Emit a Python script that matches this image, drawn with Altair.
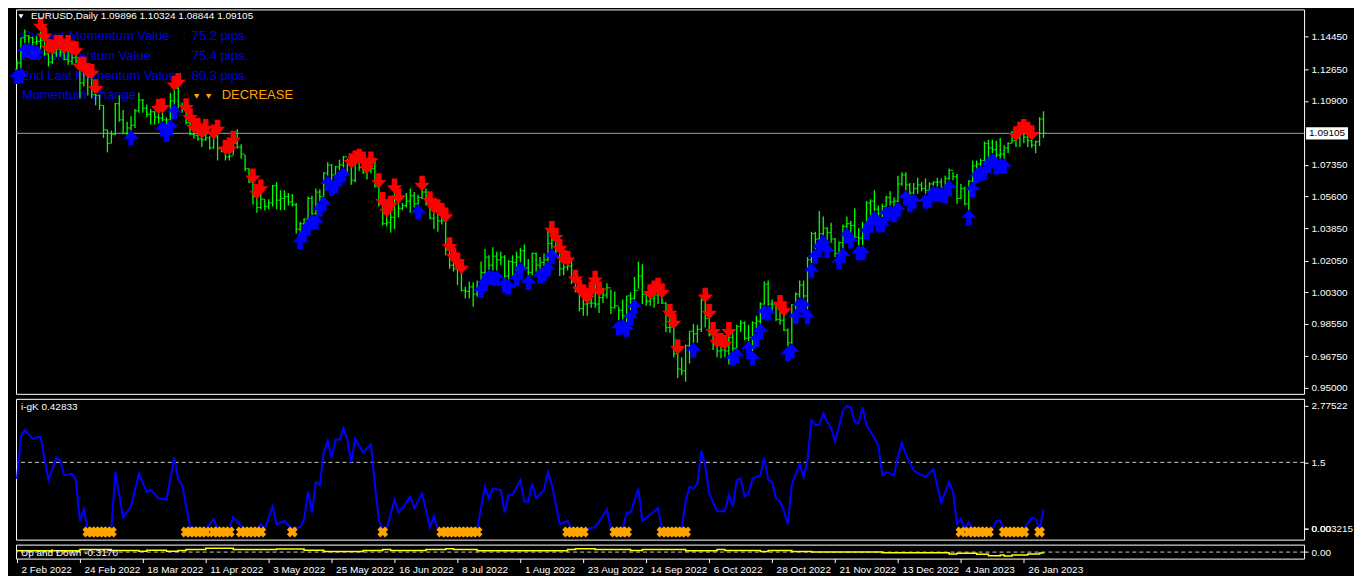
import json
import altair as alt
import pandas as pd

# ---------------- data: EURUSD daily bars, 2 Feb 2022 .. 2 Feb 2023 (weekdays) ----------------
CLOSE = [
    # Feb 2022
    1.1300, 1.1440, 1.1450, 1.1440, 1.1415, 1.1420, 1.1425, 1.1350, 1.1305, 1.1355, 1.1375, 1.1360, 1.1320, 1.1310, 1.1330, 1.1310, 1.1190, 1.1270, 1.1220,
    # Mar
    1.1125, 1.1120, 1.1065, 1.0930, 1.0855, 1.0905, 1.1075, 1.0985, 1.0910, 1.0940, 1.0955, 1.1035, 1.1095, 1.1050, 1.1015, 1.1030, 1.1000, 1.0995, 1.0985, 1.0985, 1.1090, 1.1160, 1.1065,
    # Apr
    1.1045, 1.0970, 1.0905, 1.0900, 1.0880, 1.0875, 1.0885, 1.0830, 1.0890, 1.0825, 1.0810, 1.0780, 1.0785, 1.0855, 1.0835, 1.0795, 1.0715, 1.0640, 1.0560, 1.0500, 1.0545,
    # May
    1.0505, 1.0525, 1.0620, 1.0540, 1.0550, 1.0560, 1.0530, 1.0515, 1.0380, 1.0410, 1.0435, 1.0550, 1.0465, 1.0585, 1.0560, 1.0690, 1.0735, 1.0680, 1.0725, 1.0735, 1.0780, 1.0735,
    # Jun
    1.0650, 1.0750, 1.0720, 1.0695, 1.0705, 1.0715, 1.0615, 1.0520, 1.0410, 1.0415, 1.0445, 1.0545, 1.0495, 1.0510, 1.0535, 1.0565, 1.0520, 1.0555, 1.0585, 1.0520, 1.0440, 1.0485,
    # Jul
    1.0425, 1.0425, 1.0265, 1.0180, 1.0160, 1.0185, 1.0040, 1.0035, 1.0060, 1.0020, 1.0085, 1.0140, 1.0225, 1.0180, 1.0230, 1.0210, 1.0225, 1.0120, 1.0200, 1.0195, 1.0225,
    # Aug
    1.0260, 1.0165, 1.0140, 1.0245, 1.0180, 1.0195, 1.0210, 1.0300, 1.0320, 1.0260, 1.0160, 1.0170, 1.0175, 1.0090, 1.0035, 0.9940, 0.9965, 0.9970, 0.9970, 0.9965, 1.0000, 1.0015, 1.0055,
    # Sep
    0.9945, 0.9955, 0.9930, 0.9900, 1.0010, 0.9995, 1.0040, 1.0120, 1.0020, 0.9980, 0.9995, 1.0015, 1.0025, 0.9970, 0.9835, 0.9835, 0.9690, 0.9605, 0.9595, 0.9735, 0.9815, 0.9800,
    # Oct
    0.9825, 0.9985, 0.9885, 0.9795, 0.9740, 0.9705, 0.9710, 0.9705, 0.9780, 0.9720, 0.9840, 0.9860, 0.9775, 0.9780, 0.9860, 0.9870, 0.9965, 1.0075, 0.9965, 0.9965, 0.9880,
    # Nov
    0.9875, 0.9820, 0.9750, 0.9960, 1.0020, 1.0070, 1.0010, 1.0210, 1.0355, 1.0325, 1.0355, 1.0385, 1.0360, 1.0325, 1.0245, 1.0305, 1.0395, 1.0410, 1.0400, 1.0335, 1.0330, 1.0405,
    # Dec
    1.0525, 1.0535, 1.0490, 1.0465, 1.0505, 1.0555, 1.0530, 1.0535, 1.0630, 1.0680, 1.0625, 1.0580, 1.0605, 1.0625, 1.0605, 1.0595, 1.0630, 1.0640, 1.0640, 1.0610, 1.0660, 1.0705,
    # Jan 2023
    1.0670, 1.0550, 1.0605, 1.0520, 1.0645, 1.0730, 1.0740, 1.0760, 1.0855, 1.0830, 1.0820, 1.0790, 1.0795, 1.0830, 1.0855, 1.0870, 1.0885, 1.0915, 1.0890, 1.0870, 1.0845, 1.0865,
    # Feb 2023
    1.0990, 1.09105,
]
HIGH = [
    1.1315, 1.1440, 1.1485, 1.1455, 1.1445, 1.1450, 1.1495, 1.1440, 1.1375, 1.1370, 1.1395, 1.1395, 1.1375, 1.1395, 1.1365, 1.1360, 1.1275, 1.1275, 1.1240,
    1.1235, 1.1150, 1.1125, 1.1065, 1.0930, 1.0925, 1.1080, 1.1120, 1.1040, 1.0975, 1.1005, 1.1045, 1.1135, 1.1100, 1.1070, 1.1045, 1.1035, 1.1040, 1.1045, 1.1000, 1.1135, 1.1170, 1.1185,
    1.1080, 1.1045, 1.0990, 1.0935, 1.0935, 1.0905, 1.0930, 1.0895, 1.0900, 1.0925, 1.0835, 1.0815, 1.0815, 1.0865, 1.0935, 1.0850, 1.0790, 1.0715, 1.0655, 1.0570, 1.0595,
    1.0545, 1.0545, 1.0625, 1.0640, 1.0595, 1.0595, 1.0580, 1.0575, 1.0525, 1.0420, 1.0440, 1.0560, 1.0565, 1.0605, 1.0600, 1.0695, 1.0750, 1.0740, 1.0730, 1.0765, 1.0785, 1.0770,
    1.0740, 1.0755, 1.0765, 1.0750, 1.0710, 1.0750, 1.0775, 1.0630, 1.0525, 1.0470, 1.0505, 1.0600, 1.0545, 1.0525, 1.0580, 1.0605, 1.0585, 1.0570, 1.0615, 1.0605, 1.0530, 1.0490,
    1.0485, 1.0465, 1.0440, 1.0275, 1.0220, 1.0190, 1.0155, 1.0060, 1.0090, 1.0085, 1.0095, 1.0200, 1.0270, 1.0235, 1.0280, 1.0255, 1.0255, 1.0235, 1.0210, 1.0235, 1.0255,
    1.0275, 1.0295, 1.0215, 1.0250, 1.0250, 1.0225, 1.0245, 1.0370, 1.0365, 1.0325, 1.0265, 1.0205, 1.0200, 1.0200, 1.0095, 1.0040, 1.0015, 0.9990, 1.0030, 1.0090, 1.0030, 1.0055, 1.0080,
    1.0045, 1.0035, 0.9950, 0.9990, 1.0010, 1.0030, 1.0115, 1.0200, 1.0185, 1.0025, 1.0015, 1.0035, 1.0050, 1.0020, 0.9975, 0.9905, 0.9850, 0.9710, 0.9670, 0.9740, 0.9815, 0.9855,
    0.9850, 0.9995, 0.9995, 0.9905, 0.9805, 0.9745, 0.9745, 0.9735, 0.9805, 0.9805, 0.9850, 0.9875, 0.9870, 0.9850, 0.9870, 0.9900, 0.9975, 1.0090, 1.0095, 0.9990, 0.9975,
    0.9955, 0.9920, 0.9830, 0.9965, 1.0030, 1.0095, 1.0095, 1.0225, 1.0365, 1.0365, 1.0480, 1.0450, 1.0390, 1.0415, 1.0330, 1.0310, 1.0405, 1.0450, 1.0425, 1.0495, 1.0385, 1.0420,
    1.0535, 1.0545, 1.0595, 1.0510, 1.0520, 1.0565, 1.0590, 1.0555, 1.0675, 1.0695, 1.0695, 1.0635, 1.0635, 1.0665, 1.0640, 1.0660, 1.0640, 1.0645, 1.0665, 1.0660, 1.0675, 1.0715,
    1.0695, 1.0685, 1.0630, 1.0615, 1.0650, 1.0760, 1.0760, 1.0770, 1.0865, 1.0875, 1.0875, 1.0870, 1.0885, 1.0845, 1.0860, 1.0925, 1.0890, 1.0915, 1.0930, 1.0915, 1.0895, 1.0870,
    1.1000, 1.10324,
]
LOW = [
    1.1265, 1.1270, 1.1410, 1.1410, 1.1400, 1.1400, 1.1375, 1.1340, 1.1280, 1.1295, 1.1335, 1.1335, 1.1315, 1.1290, 1.1290, 1.1300, 1.1105, 1.1170, 1.1120,
    1.1105, 1.1065, 1.1040, 1.0885, 1.0805, 1.0855, 1.0900, 1.0975, 1.0905, 1.0900, 1.0925, 1.0940, 1.1025, 1.1025, 1.1000, 1.0960, 1.0960, 1.0965, 1.0975, 1.0945, 1.0985, 1.1070, 1.1050,
    1.1025, 1.0960, 1.0900, 1.0880, 1.0870, 1.0835, 1.0870, 1.0820, 1.0825, 1.0760, 1.0805, 1.0760, 1.0760, 1.0790, 1.0825, 1.0770, 1.0700, 1.0635, 1.0515, 1.0470, 1.0490,
    1.0485, 1.0490, 1.0505, 1.0490, 1.0485, 1.0485, 1.0510, 1.0505, 1.0355, 1.0350, 1.0390, 1.0430, 1.0460, 1.0460, 1.0530, 1.0560, 1.0675, 1.0645, 1.0660, 1.0705, 1.0720, 1.0680,
    1.0625, 1.0640, 1.0705, 1.0685, 1.0655, 1.0690, 1.0610, 1.0505, 1.0400, 1.0395, 1.0360, 1.0380, 1.0445, 1.0485, 1.0500, 1.0470, 1.0500, 1.0515, 1.0545, 1.0510, 1.0435, 1.0380,
    1.0365, 1.0405, 1.0235, 1.0160, 1.0145, 1.0070, 1.0035, 0.9995, 0.9995, 0.9950, 1.0005, 1.0080, 1.0125, 1.0155, 1.0150, 1.0150, 1.0180, 1.0110, 1.0100, 1.0115, 1.0145,
    1.0195, 1.0160, 1.0125, 1.0125, 1.0145, 1.0160, 1.0175, 1.0200, 1.0270, 1.0235, 1.0120, 1.0125, 1.0150, 1.0075, 1.0030, 0.9925, 0.9900, 0.9900, 0.9945, 0.9945, 0.9915, 0.9970, 0.9995,
    0.9910, 0.9940, 0.9875, 0.9880, 0.9865, 0.9930, 0.9990, 1.0050, 0.9965, 0.9955, 0.9955, 0.9945, 0.9965, 0.9965, 0.9810, 0.9805, 0.9670, 0.9555, 0.9570, 0.9535, 0.9635, 0.9750,
    0.9750, 0.9810, 0.9835, 0.9785, 0.9710, 0.9670, 0.9665, 0.9670, 0.9630, 0.9705, 0.9720, 0.9810, 0.9765, 0.9760, 0.9705, 0.9810, 0.9855, 0.9960, 0.9955, 0.9925, 0.9870,
    0.9850, 0.9815, 0.9730, 0.9745, 0.9935, 1.0000, 0.9995, 0.9935, 1.0190, 1.0270, 1.0320, 1.0345, 1.0300, 1.0305, 1.0225, 1.0240, 1.0275, 1.0385, 1.0355, 1.0330, 1.0290, 1.0290,
    1.0405, 1.0445, 1.0480, 1.0445, 1.0445, 1.0505, 1.0510, 1.0500, 1.0530, 1.0620, 1.0595, 1.0555, 1.0575, 1.0575, 1.0590, 1.0575, 1.0580, 1.0620, 1.0615, 1.0610, 1.0605, 1.0650,
    1.0650, 1.0520, 1.0545, 1.0510, 1.0485, 1.0640, 1.0715, 1.0730, 1.0735, 1.0780, 1.0800, 1.0765, 1.0770, 1.0770, 1.0800, 1.0855, 1.0835, 1.0835, 1.0855, 1.0835, 1.0830, 1.0800,
    1.0840, 1.08844,
]
FIRST_OPEN = 1.1265
LAST_OPEN = 1.09896
CURRENT_PRICE = 1.09105

RED_BARS = [6, 7, 8, 9, 10, 11, 12, 13, 14, 15, 16, 17, 18, 19, 20, 36, 37, 40, 41, 43, 44, 45, 46, 47, 48,
            50, 51, 53, 54, 55, 60, 61, 62, 85, 86, 87, 88, 89, 90, 92, 93, 94, 95, 96, 97, 103, 105, 106,
            107, 108, 109, 110, 111, 112, 113, 136, 137, 138, 139, 140, 142, 143, 144, 145, 146, 147, 148,
            161, 162, 163, 164, 166, 167, 168, 175, 176, 177, 178, 179, 180, 181, 194, 195,
            254, 255, 256, 257, 258]
BLUE_BARS = [0, 1, 2, 3, 4, 5, 29, 37, 38, 39, 40, 72, 73, 74, 75, 76, 77, 78, 79, 80, 81, 82, 83, 102,
             118, 119, 120, 121, 122, 124, 125, 127, 128, 130, 133, 134, 135, 136, 153, 154, 155, 156, 157,
             172, 182, 183, 186, 187, 188, 189, 190, 191, 196, 197, 198, 199, 200, 201, 202, 203, 204, 205,
             206, 209, 210, 211, 212, 214, 215, 216, 217, 218, 219, 220, 221, 222, 223, 224, 226, 227, 228,
             231, 232, 233, 234, 235, 236, 237, 242, 243, 244, 245, 246, 247, 248, 249, 250, 251]

PRICE_TICKS = [1.14450, 1.12650, 1.10900, 1.07350, 1.05600, 1.03850, 1.02050, 1.00300, 0.98550, 0.96750, 0.95000]

# i-gK indicator (vertices)
IGK_BARS = [0, 1, 2, 4, 6, 8, 10, 11, 12, 14, 15, 16, 17, 18, 24, 25, 27, 29, 31, 33, 34, 36, 38, 40, 41, 42, 44, 48,
            50, 51, 54, 55, 57, 58, 61, 62, 63, 65, 66, 68, 70, 72, 73, 74, 75, 76, 77, 78, 79, 80, 81, 82, 83, 84,
            85, 86, 88, 90, 91, 92, 93, 94, 96, 97, 98, 100, 101, 103, 105, 106, 107, 117, 119, 120, 121, 123, 124,
            125, 126, 128, 129, 130, 131, 132, 134, 135, 136, 138, 140, 141, 145, 147, 150, 151, 154, 155, 156, 158,
            159, 163, 164, 169, 170, 171, 172, 173, 174, 175, 176, 178, 180, 181, 182, 183, 184, 185, 186, 187, 189,
            190, 191, 192, 193, 194, 195, 196, 197, 198, 199, 200, 201, 202, 203, 204, 205, 206, 207, 208, 209, 210,
            211, 212, 213, 214, 215, 216, 218, 219, 220, 221, 223, 224, 225, 226, 228, 230, 231, 233, 235, 237, 238,
            239, 240, 241, 242, 243, 248, 249, 250, 251, 256, 258, 259, 260, 261]
IGK_VALUES = [1.13, 2.08, 2.23, 2.03, 2.08, 1.10, 1.61, 1.54, 1.21, 1.24, 1.10, 0.18, 0.44, 0, 0, 1.28, 0.26, 0.51, 1.24,
              0.84, 0.88, 0.69, 0.66, 1.61, 1.10, 0.99, 0.04, 0, 0.22, 0, 0, 0.27, 0.07, 0, 0, 0.11, 0, 0.51, 0.11,
              0.18, 0, 0.04, 0.22, 0.84, 0.37, 1.06, 0.99, 1.72, 1.98, 1.61, 2.01, 2.01, 2.27, 2.01, 1.50, 2.03,
              1.72, 1.90, 1.00, 0.20, 0, 0, 0.66, 0.37, 0.47, 0.73, 0.47, 0.80, 0.04, 0.29, 0, 0, 0.95, 0.69, 0.91,
              0.88, 0.37, 0.77, 0.77, 1.10, 0.62, 0.62, 1.02, 0.69, 0.88, 1.28, 0.99, 0.11, 0.18, 0, 0, 0.04, 0.44,
              0, 0, 0.37, 0.37, 0.91, 0.18, 0.47, 0, 0, 0.62, 0.95, 0.91, 1.02, 1.76, 1.43, 0.80, 0.40, 0.40, 0.77,
              0.51, 1.10, 1.13, 0.73, 0.80, 1.13, 1.21, 1.61, 1.10, 1.06, 0.69, 0.62, 0.40, 0.11, 0.99, 1.24, 1.46,
              1.17, 1.57, 2.45, 2.34, 2.34, 2.60, 2.41, 2.27, 1.98, 2.30, 2.67, 2.77, 2.74, 2.41, 2.38, 2.74, 2.34,
              2.05, 1.87, 1.21, 1.28, 1.21, 1.65, 1.94, 1.68, 1.32, 1.21, 1.17, 1.35, 0.59, 1.06, 0.84, 0.11, 0.22,
              0, 0.15, 0, 0, 0.18, 0.18, 0, 0, 0.26, 0.22, 0, 0.43]
ORANGE_X_BARS = [18, 19, 20, 21, 22, 23, 24, 43, 44, 45, 46, 47, 48, 50, 51, 52, 53, 54, 57, 58, 59, 60, 61, 62, 70,
                 93, 108, 109, 110, 111, 112, 113, 114, 115, 116, 117, 140, 141, 142, 143, 144, 152, 153, 154, 155,
                 164, 165, 166, 167, 168, 169, 170, 240, 242, 243, 244, 245, 246, 247, 251, 252, 253, 254, 255,
                 256, 260]

# Up and Down indicator (step line)
UD_BARS = [0, 16, 24, 31, 33, 38, 41, 43, 48, 55, 66, 73, 78, 88, 93, 95, 104, 109, 111, 117, 140, 142, 147, 156,
           159, 170, 178, 180, 189, 191, 197, 202, 220, 237, 239, 244, 247, 250, 251, 253, 257, 260, 261]
UD_VALUES = [0.33, 0.67, 0.42, 0.25, 0.50, 0.25, 0.42, 0.67, 1.00, 0.67, 0.83, 0.50, 0.17, 0.42, 0.67, 0.42, 0.67,
             0.92, 0.67, 0.33, 0.67, 0.92, 0.67, 0.42, 0.67, 0.33, 0.67, 0.42, 0.17, 0.42, 0.17, 0.00, -0.17, -0.50,
             -0.33, -0.58, -1.00, -0.75, -1.08, -0.75, -0.50, -0.25, -0.317]

DATE_LABELS = ["2 Feb 2022", "24 Feb 2022", "18 Mar 2022", "11 Apr 2022", "3 May 2022", "25 May 2022",
               "16 Jun 2022", "8 Jul 2022", "1 Aug 2022", "23 Aug 2022", "14 Sep 2022", "6 Oct 2022",
               "28 Oct 2022", "21 Nov 2022", "13 Dec 2022", "4 Jan 2023", "26 Jan 2023"]

TITLE_TEXT = "EURUSD,Daily  1.09896 1.10324 1.08844 1.09105"
MOM_LABELS = ["Current Momentum Value", "Last Momentum Value", "2nd Last Momentum Value", "Momentum Change"]
MOM_VALUES = ["75.2 pips.", "75.4 pips.", "80.3 pips."]
MOM_STATE = "DECREASE"
IGK_TITLE = "i-gK 0.42833"
UD_TITLE = "Up and Down -0.3170"

# ---------------- frames ----------------
n = min(len(CLOSE), len(HIGH), len(LOW))
opens = [FIRST_OPEN] + CLOSE[:n - 1]
opens[n - 1] = LAST_OPEN
bars = pd.DataFrame({"i": list(range(n)), "o": opens, "h": HIGH[:n], "l": LOW[:n], "c": CLOSE[:n]})

red_df = pd.DataFrame({"i": RED_BARS, "p": [HIGH[b] + 0.0018 for b in RED_BARS]})
blue_df = pd.DataFrame({"i": BLUE_BARS, "p": [LOW[b] - 0.0040 for b in BLUE_BARS]})
igk_df = pd.DataFrame({"i": IGK_BARS, "v": IGK_VALUES})
ox_df = pd.DataFrame({"i": ORANGE_X_BARS, "v": [0.0] * len(ORANGE_X_BARS)})
ud_df = pd.DataFrame({"i": UD_BARS, "v": UD_VALUES})
one = pd.DataFrame({"a": [0]})

W, HM, HI, HS = 1290, 385, 141, 14
FONT = "Liberation Sans"
GREEN, RED, BLUE, ORANGE = "#00FF00", "#FF0000", "#0000FF", "#FFA500"

xs = alt.Scale(domain=[-0.25, 327.25], nice=False, zero=False)
X = alt.X("i:Q", scale=xs, axis=None)

# ---------------- main price panel ----------------
ys = alt.Scale(domain=[0.94675, 1.15967], nice=False, zero=False)
yax = alt.Axis(orient="right", values=PRICE_TICKS, format=".5f", title=None, labelOverlap=False,
               labelPadding=3, tickSize=4)

DOWN = "M -0.36 -1 L 0.36 -1 L 0.36 -0.1 L 1 -0.1 L 0 1 L -1 -0.1 L -0.36 -0.1 Z"
UP = "M -0.36 1 L 0.36 1 L 0.36 0.1 L 1 0.1 L 0 -1 L -1 0.1 L -0.36 0.1 Z"

layers = []
text_color = "#0000E6"
for k, lab in enumerate(MOM_LABELS):
    yy = 27 + 19.7 * k
    layers.append(alt.Chart(one).mark_text(align="left", baseline="middle", font=FONT, fontSize=13,
                                           color=text_color, text=lab).encode(x=alt.value(6), y=alt.value(yy)))
    if k < 3:
        layers.append(alt.Chart(one).mark_text(align="left", baseline="middle", font=FONT, fontSize=13,
                                               color=text_color, text=":").encode(x=alt.value(167), y=alt.value(yy)))
        layers.append(alt.Chart(one).mark_text(align="left", baseline="middle", font=FONT, fontSize=13,
                                               color=text_color, text=MOM_VALUES[k]).encode(x=alt.value(176), y=alt.value(yy)))
yy4 = 27 + 19.7 * 3
for tx in (181, 193):
    layers.append(alt.Chart(one).mark_point(shape="triangle-down", filled=True, size=30, color=ORANGE,
                                            opacity=1).encode(x=alt.value(tx), y=alt.value(yy4 + 1)))
layers.append(alt.Chart(one).mark_text(align="left", baseline="middle", font=FONT, fontSize=13,
                                       color=ORANGE, text=MOM_STATE).encode(x=alt.value(206), y=alt.value(yy4)))

cur = pd.DataFrame({"p": [CURRENT_PRICE]})
layers.append(alt.Chart(cur).mark_rule(color="#A0A0A0", strokeWidth=1).encode(
    y=alt.Y("p:Q", scale=ys, axis=yax)))
layers.append(alt.Chart(bars).mark_rule(color=GREEN, strokeWidth=1.3).encode(
    x=X, y=alt.Y("l:Q", scale=ys, axis=yax), y2="h:Q"))
layers.append(alt.Chart(bars).mark_tick(orient="horizontal", color=GREEN, size=2, thickness=1.2, xOffset=-1).encode(
    x=X, y=alt.Y("o:Q", scale=ys, axis=yax)))
layers.append(alt.Chart(bars).mark_tick(orient="horizontal", color=GREEN, size=2, thickness=1.2, xOffset=1).encode(
    x=X, y=alt.Y("c:Q", scale=ys, axis=yax)))
layers.append(alt.Chart(red_df).mark_point(shape=DOWN, filled=True, size=230, color=RED, opacity=1,
                                           strokeWidth=0).encode(x=X, y=alt.Y("p:Q", scale=ys, axis=yax)))
layers.append(alt.Chart(blue_df).mark_point(shape=UP, filled=True, size=230, color=BLUE, opacity=1,
                                            strokeWidth=0).encode(x=X, y=alt.Y("p:Q", scale=ys, axis=yax)))
layers.append(alt.Chart(one).mark_point(shape="triangle-down", filled=True, size=26, color="white",
                                        opacity=1).encode(x=alt.value(5), y=alt.value(7)))
layers.append(alt.Chart(one).mark_text(align="left", baseline="middle", font=FONT, fontSize=10,
                                       color="white", text=TITLE_TEXT).encode(x=alt.value(15), y=alt.value(7)))
box = pd.DataFrame({"t": [CURRENT_PRICE + 0.0034], "b": [CURRENT_PRICE - 0.0034], "p": [CURRENT_PRICE]})
layers.append(alt.Chart(box).mark_rect(color="white", clip=False).encode(
    x=alt.value(W + 2), x2=alt.value(W + 44), y=alt.Y("t:Q", scale=ys, axis=yax), y2="b:Q"))
layers.append(alt.Chart(box).mark_text(color="black", align="left", baseline="middle", font=FONT, fontSize=10,
                                       clip=False, text=f"{CURRENT_PRICE:.5f}").encode(
    x=alt.value(W + 5), y=alt.Y("p:Q", scale=ys, axis=yax)))

main = alt.layer(*layers).properties(width=W, height=HM)

# ---------------- i-gK panel ----------------
ys2 = alt.Scale(domain=[-0.24, 2.93], nice=False, zero=False)
yax2 = alt.Axis(orient="right", values=[2.77522, 1.5, 0.003215, 0.0], title=None, labelOverlap=False,
                labelPadding=3, tickSize=4,
                labelExpr="datum.value == 1.5 ? '1.5' : (datum.value > 2 ? '2.77522' : (datum.value > 0.001 ? '0.003215' : '0.00'))")
ind = alt.layer(
    alt.Chart(pd.DataFrame({"v": [1.5]})).mark_rule(color="#C8C8C8", strokeDash=[4, 3], strokeWidth=1).encode(
        y=alt.Y("v:Q", scale=ys2, axis=yax2)),
    alt.Chart(igk_df).mark_line(color=BLUE, strokeWidth=2).encode(x=X, y=alt.Y("v:Q", scale=ys2, axis=yax2)),
    alt.Chart(ox_df).mark_point(shape="cross", angle=45, filled=True, size=120, color=ORANGE, opacity=1,
                                yOffset=3).encode(x=X, y=alt.Y("v:Q", scale=ys2, axis=yax2)),
    alt.Chart(one).mark_text(align="left", baseline="middle", font=FONT, fontSize=10, color="white",
                             text=IGK_TITLE).encode(x=alt.value(5), y=alt.value(8)),
).properties(width=W, height=HI)

# ---------------- Up and Down panel ----------------
ys3 = alt.Scale(domain=[-1.75, 2.0], nice=False, zero=False)
yax3 = alt.Axis(orient="right", values=[0.0], title=None, labelExpr="'0.00'", labelPadding=3, tickSize=4)
xax = alt.Axis(orient="bottom", values=list(range(0, 16 * len(DATE_LABELS), 16)), title=None,
               labelExpr=json.dumps(DATE_LABELS) + "[round(datum.value / 16)]",
               labelAlign="left", labelOffset=4, labelPadding=2, tickSize=4, labelOverlap=False,
               labelFlush=False, labelColor="white", labelFont=FONT, labelFontSize=10)
strip = alt.layer(
    alt.Chart(pd.DataFrame({"v": [0.0]})).mark_rule(color="#C8C8C8", strokeDash=[4, 3], strokeWidth=1).encode(
        y=alt.Y("v:Q", scale=ys3, axis=yax3)),
    alt.Chart(ud_df).mark_line(color="#FFFF00", strokeWidth=1.5, interpolate="step-after").encode(
        x=alt.X("i:Q", scale=xs, axis=xax), y=alt.Y("v:Q", scale=ys3, axis=yax3)),
    alt.Chart(one).mark_text(align="left", baseline="middle", font=FONT, fontSize=10, color="white",
                             text=UD_TITLE).encode(x=alt.value(5), y=alt.value(8)),
).properties(width=W, height=HS)

chart = alt.vconcat(main, ind, strip, spacing=3).properties(
    background="black", padding={"left": 0, "top": 0, "right": 0, "bottom": 0}
).configure_view(stroke="white", strokeWidth=1).configure_axis(
    grid=False, domain=False, labelColor="white", tickColor="white", labelFont=FONT, labelFontSize=10
)

chart.save("out.html", embed_options={"renderer": "svg", "actions": False})
